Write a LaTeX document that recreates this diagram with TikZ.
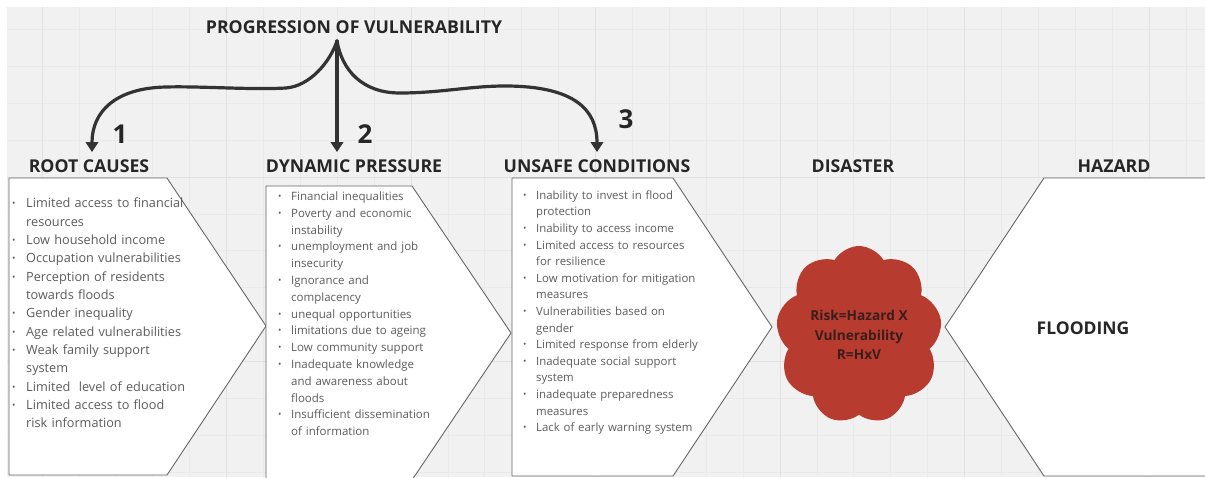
\documentclass[tikz,border=0pt]{standalone}
\usepackage{fontspec}
\setmainfont{Open Sans}
\usetikzlibrary{arrows.meta,shapes.symbols}

\definecolor{canvas}{HTML}{F1F1F1}
\definecolor{gridminor}{HTML}{E9E9E9}
\definecolor{gridmajor}{HTML}{E0E0E0}
\definecolor{panelline}{HTML}{666666}
\definecolor{headink}{HTML}{262626}
\definecolor{listink}{HTML}{5C5C5C}
\definecolor{arrowink}{HTML}{333333}
\definecolor{cloudred}{HTML}{B83B30}
\definecolor{cloudink}{HTML}{3A1E1B}

% bulleted entry with a hanging indent for wrapped lines
\newlength\bulletgap
\newcommand\bitem[1]{\par\noindent\hangindent=\bulletgap\hangafter=1%
  \makebox[\bulletgap][l]{\raisebox{0.08em}{\fontsize{9}{9}\selectfont\textbullet}}#1}

\begin{document}
\begin{tikzpicture}[x=1pt,y=-1pt,
  gridline/.style={line width=0.8pt},
  panel/.style={draw=panelline,fill=white,line width=0.9pt,line join=round},
  header/.style={font=\fontsize{17.7}{19}\selectfont\bfseries,text=headink,inner sep=0pt},
  stepnum/.style={font=\fontsize{26}{28}\selectfont\bfseries,text=headink,inner sep=0pt},
  listbox/.style={anchor=north west,inner sep=0pt,text width=250pt,align=left,text=listink},
  prog/.style={draw=arrowink,line width=3.2pt,line cap=round,
    -{Triangle[width=12.5pt,length=10pt]}}]

\useasboundingbox (0,0) rectangle (1205,477);
\fill[white] (0,0) rectangle (1205,477);
\fill[canvas] (7,7) rectangle (1205,477);

% background grid
\foreach \i in {0,...,31}
  \draw[gridline,gridminor] ({42+36.9*\i},7) -- ({42+36.9*\i},477);
\foreach \j in {0,...,12}
  \draw[gridline,gridminor] (7,{29.4+36.9*\j}) -- (1205,{29.4+36.9*\j});
\foreach \i in {0,5,...,30}
  \draw[gridline,gridmajor] ({42+36.9*\i},7) -- ({42+36.9*\i},477);
\foreach \j in {4,9}
  \draw[gridline,gridmajor] (7,{29.4+36.9*\j}) -- (1205,{29.4+36.9*\j});

% chevron panels
\draw[panel] (9,178) -- (167,178) -- (266,326) -- (167,475) -- (9,475) -- cycle;
\draw[panel] (266,186) -- (412,186) -- (511,333) -- (412,480) -- (266,480) -- cycle;
\draw[panel] (512,178) -- (673,178) -- (772,327) -- (673,476) -- (512,476) -- cycle;
\draw[panel] (1210,178) -- (1044,178) -- (945,327) -- (1044,476) -- (1210,476);

% headings
\node[header] (title) at (354,27) {PROGRESSION OF VULNERABILITY};
\node[header] (rc) at (89,166) {ROOT CAUSES};
\node[header] (dp) at (354,166) {DYNAMIC PRESSURE};
\node[header] (uc) at (597,166) {UNSAFE CONDITIONS};
\node[header] (ds) at (853,166) {DISASTER};
\node[header] (hz) at (1114,166) {HAZARD};

\node[stepnum] (n1) at (120,134) {1};
\node[stepnum] (n2) at (365,134) {2};
\node[stepnum] (n3) at (626,119) {3};

% progression arrows
\coordinate (fork) at (337,41);
\coordinate (tip1) at (92,152);
\coordinate (tip2) at (337,152);
\coordinate (tip3) at (597,152);
\draw[prog] (fork) .. controls (330,62) and (310,86) .. (286,88)
  .. controls (250,90) and (200,86) .. (166,87)
  .. controls (115,88) and (92,112) .. (tip1);
\draw[prog] (fork) -- (tip2);
\draw[prog] (fork) .. controls (342,70) and (362,93) .. (400,93)
  .. controls (440,93) and (470,86) .. (505,86)
  .. controls (575,86) and (597,110) .. (tip3);

% lists
\node[listbox,font=\fontsize{12.7}{18.33}\selectfont] (rclist) at (12,189.3) {%
  \setlength\bulletgap{14pt}%
  \bitem{Limited access to financial\newline resources}
  \bitem{Low household income}
  \bitem{Occupation vulnerabilities}
  \bitem{Perception of residents\newline towards floods}
  \bitem{Gender inequality}
  \bitem{Age related vulnerabilities}
  \bitem{Weak family support\newline system}
  \bitem{Limited~ level of education}
  \bitem{Limited access to flood\newline risk information}\par};

\node[listbox,font=\fontsize{11.5}{16.8}\selectfont] (dplist) at (278,183.4) {%
  \setlength\bulletgap{13pt}%
  \bitem{Financial inequalities}
  \bitem{Poverty and economic\newline instability}
  \bitem{unemployment and job\newline insecurity}
  \bitem{Ignorance and\newline complacency}
  \bitem{unequal opportunities}
  \bitem{limitations due to ageing}
  \bitem{Low community support}
  \bitem{Inadequate knowledge\newline and awareness about\newline floods}
  \bitem{Insufficient dissemination\newline of information}\par};

\node[listbox,font=\fontsize{11.4}{16.6}\selectfont] (uclist) at (523,182.4) {%
  \setlength\bulletgap{13pt}%
  \bitem{Inability to invest in flood\newline protection}
  \bitem{Inability to access income}
  \bitem{Limited access to resources\newline for resilience}
  \bitem{Low motivation for mitigation\newline measures}
  \bitem{Vulnerabilities based on\newline gender}
  \bitem{Limited response from elderly}
  \bitem{Inadequate social support\newline system}
  \bitem{inadequate preparedness\newline measures}
  \bitem{Lack of early warning system}\par};

% disaster cloud
\node[cloud,cloud puffs=9,cloud puff arc=120,aspect=0.95,
  minimum width=166pt,minimum height=178pt,inner sep=0pt,
  fill=cloudred,text=cloudink,align=center,
  font=\fontsize{13.7}{19.5}\selectfont\bfseries] (disaster) at (859,335)
  {Risk=Hazard X\\Vulnerability\\R=HxV};

% hazard label
\node[font=\fontsize{17.5}{19}\selectfont\bfseries,text=headink,inner sep=0pt] (flood) at (1083,328) {FLOODING};

\end{tikzpicture}
\end{document}
